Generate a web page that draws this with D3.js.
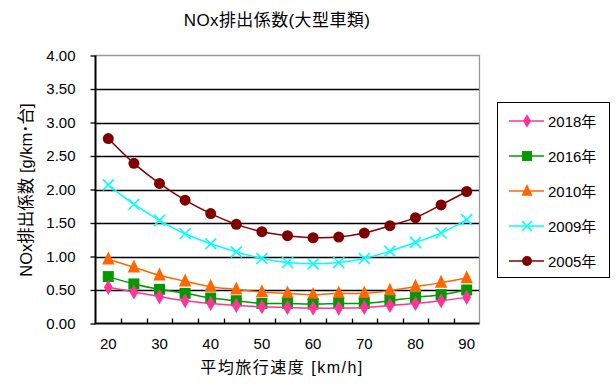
<!DOCTYPE html>
<html><head><meta charset="utf-8">
<script src="https://cdn.jsdelivr.net/npm/d3@7/dist/d3.min.js"></script>
<style>
body{margin:0;background:#fff;}
text{font-family:"Liberation Sans","Noto Sans CJK JP",Arial,sans-serif;}
</style></head>
<body><svg id="c" width="615" height="385"></svg>
<script>
const speeds = [20,25,30,35,40,45,50,55,60,65,70,75,80,85,90];
const speedLabels = [20,30,40,50,60,70,80,90];
const yTicks = [0,0.5,1,1.5,2,2.5,3,3.5,4];
const v2018 = [0.54,0.47,0.40,0.34,0.30,0.27,0.25,0.24,0.23,0.23,0.24,0.27,0.30,0.34,0.39];
const v2016 = [0.70,0.59,0.51,0.45,0.38,0.34,0.30,0.30,0.29,0.30,0.30,0.34,0.39,0.43,0.50];
const v2010 = [0.96,0.84,0.72,0.63,0.55,0.51,0.47,0.45,0.43,0.45,0.45,0.49,0.55,0.61,0.68];
const v2009 = [2.07,1.78,1.54,1.34,1.19,1.07,0.97,0.91,0.89,0.91,0.97,1.08,1.21,1.35,1.55];
const v2005 = [2.76,2.39,2.09,1.84,1.64,1.48,1.37,1.31,1.28,1.29,1.35,1.46,1.58,1.77,1.97];
const seriesNames = ["2018年","2016年","2010年","2009年","2005年"];
const seriesValues = [v2018,v2016,v2010,v2009,v2005];
const seriesColors = ["#ff3399","#009900","#ff6600","#00ffff","#800000"];
const seriesMarkers = ["diamond","square","triangle","cross","circle"];

const svg = d3.select("#c");
const L=95.5, R=479.5, T=55.5, B=323.5;
const x = d3.scaleBand().domain(speeds).range([L,R]).padding(0);
const bw = x.bandwidth();
const xc = d => x(d)+bw/2;
const y = d3.scaleLinear().domain([0,4]).range([B,T]);

svg.append("g").selectAll("line").data(yTicks.filter(d=>d>0&&d<4)).join("line")
  .attr("x1",L).attr("x2",R).attr("y1",d=>Math.round(y(d))+0.5).attr("y2",d=>Math.round(y(d))+0.5)
  .attr("stroke","#000").attr("stroke-width",1.3);
svg.append("path").attr("d",`M${L},${T}H${R}V${B}`).attr("fill","none").attr("stroke","#999").attr("stroke-width",1.3);

const ya = svg.append("g").attr("transform",`translate(${L},0)`)
  .call(d3.axisLeft(y).tickValues(yTicks).tickFormat(d3.format(".2f")).tickSize(5).tickPadding(15));
ya.select(".domain").remove();
ya.selectAll(".tick line").attr("stroke","#000").attr("stroke-width",1.3);
ya.selectAll("text").attr("font-size",15).attr("fill","#000").attr("font-family","Liberation Sans, Arial, sans-serif");

const xa = svg.append("g").attr("transform",`translate(0,${B})`)
  .call(d3.axisBottom(x).tickValues(speedLabels).tickSize(0).tickPadding(15));
xa.select(".domain").remove();
xa.selectAll("text").attr("font-size",15).attr("fill","#000").attr("font-family","Liberation Sans, Arial, sans-serif");
svg.append("g").selectAll("line").data(speeds.slice(1)).join("line")
  .attr("x1",d=>Math.round(x(d))+0.5).attr("x2",d=>Math.round(x(d))+0.5)
  .attr("y1",B).attr("y2",B-5).attr("stroke","#000").attr("stroke-width",1.3);

svg.append("path").attr("d",`M${L},${T}V${B}H${R}`).attr("fill","none").attr("stroke","#000").attr("stroke-width",2);

function marker(g, type, color, size){
  if(type==="diamond"){
    g.append("path").attr("d",d3.symbol(d3.symbolDiamond, size*size*0.55)()).attr("fill",color);
  } else if(type==="square"){
    g.append("rect").attr("x",-size/2).attr("y",-size/2).attr("width",size).attr("height",size).attr("fill",color);
  } else if(type==="triangle"){
    const h=size*1.0, w=size*0.95;
    g.append("path").attr("d",`M0,${-h*0.6}L${w/2},${h*0.4}L${-w/2},${h*0.4}Z`).attr("fill",color);
  } else if(type==="cross"){
    const s=size/2;
    g.append("path").attr("d",`M${-s},${-s}L${s},${s}M${-s},${s}L${s},${-s}`).attr("stroke",color).attr("stroke-width",1.6).attr("fill","none");
  } else {
    g.append("circle").attr("r",size/2).attr("fill",color);
  }
}
const markerSizes = {diamond:11,square:11,triangle:13,cross:11,circle:11};

const line = d3.line().x((d,i)=>xc(speeds[i])).y(d=>y(d)).curve(d3.curveCatmullRom.alpha(0.5));
[4,3,2,1,0].forEach(si=>{
  const vals = seriesValues[si], col=seriesColors[si], mk=seriesMarkers[si];
  svg.append("path").attr("d",line(vals)).attr("fill","none").attr("stroke",col).attr("stroke-width",1.5);
  svg.append("g").selectAll("g").data(vals).join("g")
    .attr("transform",(d,i)=>`translate(${xc(speeds[i])},${y(d)})`)
    .each(function(){ marker(d3.select(this), mk, col, markerSizes[mk]); });
});

svg.append("text").attr("x",277).attr("y",26).attr("text-anchor","middle").attr("font-size",17).attr("letter-spacing",0.4).attr("fill","#000").text("NOx排出係数(大型車類)");
svg.append("text").attr("transform","translate(32,190) rotate(-90)").attr("text-anchor","middle").attr("font-size",16.5).attr("fill","#000").text("NOx排出係数  [g/km･台]");
svg.append("text").attr("x",282).attr("y",373).attr("text-anchor","middle").attr("font-size",16).attr("letter-spacing",1.5).attr("fill","#000").text("平均旅行速度 [km/h]");

svg.append("rect").attr("x",497.5).attr("y",102.5).attr("width",112).attr("height",175).attr("fill","#fff").attr("stroke","#000").attr("stroke-width",1);
const lg = svg.append("g").selectAll("g").data(seriesNames).join("g")
  .attr("transform",(d,i)=>`translate(0,${121+i*35})`);
lg.append("line").attr("x1",509).attr("x2",544).attr("y1",0).attr("y2",0).attr("stroke",(d,i)=>seriesColors[i]).attr("stroke-width",1.5);
lg.append("g").attr("transform","translate(527,0)").each(function(d,i){ marker(d3.select(this), seriesMarkers[i], seriesColors[i], markerSizes[seriesMarkers[i]]*0.9); });
lg.append("text").attr("x",548).attr("y",5.5).attr("font-size",15).attr("fill","#000").text(d=>d);
</script></body></html>
